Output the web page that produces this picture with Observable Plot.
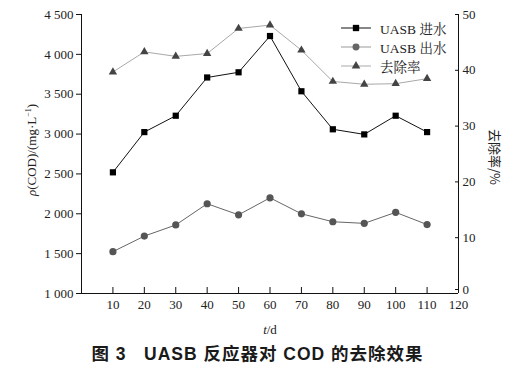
<!DOCTYPE html>
<html><head><meta charset="utf-8">
<script src="https://cdn.jsdelivr.net/npm/d3@7"></script>
<script src="https://cdn.jsdelivr.net/npm/@observablehq/plot@0.6"></script>
<style>
body{margin:0;background:#fff;}
#wrap{position:relative;width:515px;}
#caption{width:515px;text-align:center;font-family:"Liberation Sans","Noto Sans CJK SC",sans-serif;font-weight:bold;font-size:17.5px;color:#1a1a1a;margin-top:0px;letter-spacing:1px;white-space:pre;}
#legend{position:absolute;left:340px;top:18px;font-family:"Liberation Serif","Noto Serif CJK SC","Noto Sans CJK SC",serif;font-size:13.5px;color:#222;}
#legend div{display:flex;align-items:center;height:19px;}
#legend svg{margin-right:8px;}
</style></head><body>
<div id="wrap"><div id="chart"></div><div id="legend"></div></div>
<div id="caption">图 3   UASB 反应器对 COD 的去除效果</div>
<script>
const days = [10,20,30,40,50,60,70,80,90,100,110];
const influent = [2520,3025,3230,3710,3775,4230,3537,3060,2996,3230,3025];
const effluent = [1525,1720,1860,2126,1987,2200,2000,1900,1880,2018,1865];
const removal = [39.7,43.3,42.5,43.0,47.5,48.1,43.6,38.0,37.5,37.6,38.5];
const leftTicks = [1000,1500,2000,2500,3000,3500,4000,4500];
const rightTicks = [0,10,20,30,40,50];
const xTicks = [10,20,30,40,50,60,70,80,90,100,110,120];
const seriesNames = ["UASB 进水","UASB 出水","去除率"];

const toLeft = v => 1000 + v*70;
const fmt = d => d>=1000 ? `${Math.floor(d/1000)} ${String(d%1000).padStart(3,"0")}` : String(d);
const rfmt = d => String(Math.round((d-1000)/70));

const inf = days.map((d,i)=>({d, v:influent[i]}));
const eff = days.map((d,i)=>({d, v:effluent[i]}));
const rem = days.map((d,i)=>({d, v:toLeft(removal[i])}));

const plot = Plot.plot({
  width:515, height:340,
  marginLeft:81, marginRight:57, marginTop:14, marginBottom:47,
  style:{fontFamily:'"Liberation Serif","Times New Roman",serif', fontSize:"13px", color:"#222"},
  x:{domain:[0,120]},
  y:{domain:[1000,4500]},
  marks:[
    Plot.ruleY([1000],{stroke:"#111"}),
    Plot.ruleX([0],{stroke:"#111"}),
    Plot.ruleX([120],{stroke:"#111"}),
    Plot.axisX({ticks:xTicks, tickSize:-6, tickPadding:12, label:null, stroke:"#111"}),
    Plot.axisY({ticks:leftTicks, tickFormat:fmt, tickSize:5, tickPadding:3, label:null, stroke:"#111"}),
    Plot.axisY({anchor:"right", ticks:rightTicks.slice(1).map(toLeft), tickFormat:rfmt, tickSize:-4, tickPadding:8, label:null, stroke:"#111"}),
    Plot.axisY({anchor:"right", ticks:[toLeft(rightTicks[0])], tickFormat:rfmt, tickSize:-4, tickPadding:8, label:null, stroke:"#111", dy:-4}),
    Plot.line(rem,{x:"d",y:"v",stroke:"#a8a8a8",strokeWidth:1}),
    Plot.line(eff,{x:"d",y:"v",stroke:"#666",strokeWidth:1}),
    Plot.line(inf,{x:"d",y:"v",stroke:"#111",strokeWidth:1}),
    Plot.dot(rem,{x:"d",y:"v",symbol:"triangle",r:3.1,fill:"#444",stroke:"none"}),
    Plot.dot(eff,{x:"d",y:"v",symbol:"circle",r:3.6,fill:"#555",stroke:"none"}),
    Plot.dot(inf,{x:"d",y:"v",symbol:"square",r:3.5,fill:"#000",stroke:"none"})
  ]
});
document.getElementById("chart").appendChild(plot);
const svg = d3.select(plot);
// axis titles
const lt = svg.append("text").attr("transform","translate(36,150) rotate(-90)")
  .attr("text-anchor","middle").attr("font-size",13).attr("fill","#222")
  .attr("font-family",'"Liberation Serif",serif');
lt.append("tspan").attr("font-style","italic").text("ρ");
lt.append("tspan").text("(COD)/(mg·L");
lt.append("tspan").attr("font-size",8).attr("dy",-5).text("−1");
lt.append("tspan").attr("dy",5).text(")");
svg.append("text").attr("transform","translate(490,157) rotate(90)")
  .attr("text-anchor","middle").attr("font-size",13).attr("fill","#222")
  .attr("font-family",'"Noto Sans CJK SC",sans-serif').text("去除率/%");
const xt = svg.append("text").attr("x",270).attr("y",334).attr("text-anchor","middle")
  .attr("font-size",13).attr("fill","#222").attr("font-family",'"Liberation Serif",serif');
xt.append("tspan").attr("font-style","italic").text("t");
xt.append("tspan").text("/d");

// legend
const legSpec = [
  {name:seriesNames[0], line:"#111", fill:"#000", sym:d3.symbolSquare, size:40},
  {name:seriesNames[1], line:"#999", fill:"#666", sym:d3.symbolCircle, size:38},
  {name:seriesNames[2], line:"#aaa", fill:"#444", sym:d3.symbolTriangle, size:32}
];
const leg = d3.select("#legend");
legSpec.forEach(s=>{
  const row = leg.append("div");
  const sv = row.append("svg").attr("width",32).attr("height",12);
  sv.append("line").attr("x1",1).attr("x2",31).attr("y1",6).attr("y2",6).attr("stroke",s.line);
  sv.append("path").attr("d",d3.symbol(s.sym,s.size)()).attr("transform","translate(16,6)").attr("fill",s.fill);
  row.append("span").text(s.name);
});
</script>
</body></html>
